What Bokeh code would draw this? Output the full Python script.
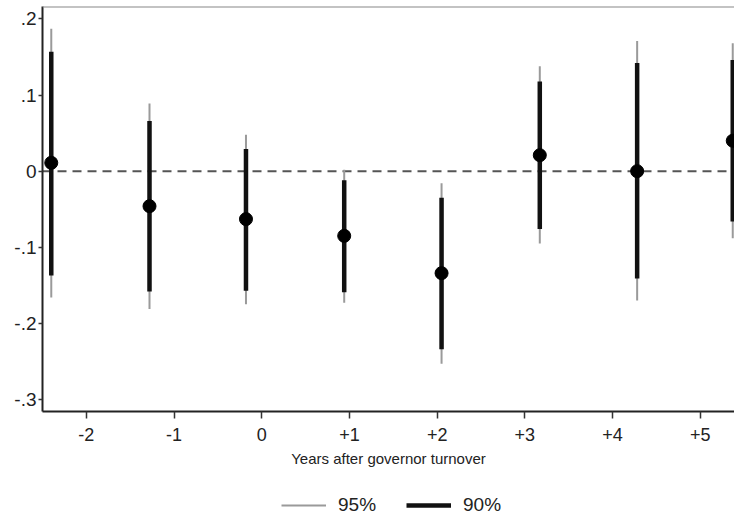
from bokeh.plotting import figure
from bokeh.layouts import column
from bokeh.models import (ColumnDataSource, FixedTicker, Span,
                          Legend, LegendItem)
from bokeh.embed import file_html
from bokeh.resources import INLINE

# ---- data ----
x_ticks = [-2, -1, 0, 1, 2, 3, 4, 5]
x_tick_labels = ["-2", "-1", "0", "+1", "+2", "+3", "+4", "+5"]
y_ticks = [0.2, 0.1, 0.0, -0.1, -0.2, -0.3]
y_tick_labels = [".2", ".1", "0", "-.1", "-.2", "-.3"]

xpos = [-2.40, -1.28, -0.18, 0.94, 2.05, 3.17, 4.28, 5.37]
coef = [0.011, -0.046, -0.063, -0.085, -0.134, 0.021, 0.000, 0.040]
lo90 = [-0.137, -0.158, -0.157, -0.159, -0.234, -0.076, -0.141, -0.066]
hi90 = [0.157, 0.066, 0.029, -0.012, -0.035, 0.118, 0.142, 0.146]
lo95 = [-0.166, -0.181, -0.175, -0.173, -0.253, -0.095, -0.170, -0.088]
hi95 = [0.187, 0.089, 0.048, 0.002, -0.016, 0.138, 0.171, 0.168]
legend_labels = ["95%", "90%"]

FONT = "Liberation Sans"
TXT = "#222222"
C95, W95 = "#9a9a9a", 2
C90, W90 = "#111111", 4.5

src = ColumnDataSource(dict(x=xpos, y=coef, lo90=lo90, hi90=hi90,
                            lo95=lo95, hi95=hi95))

p = figure(width=734, height=490, x_range=(-2.5, 5.39),
           y_range=(-0.3158, 0.2164), output_backend="svg",
           toolbar_location=None, min_border_left=42, min_border_right=0,
           min_border_top=6, min_border_bottom=79, outline_line_color=None,
           background_fill_color="white", border_fill_color="white")
p.xgrid.visible = False
p.ygrid.visible = False

# zero reference line
p.add_layout(Span(location=0, dimension="width", line_color="#555555",
                  line_width=2, line_dash="9 6", level="underlay"))
# top border line of the plot box
p.add_layout(Span(location=p.y_range.end, dimension="width",
                  line_color="#888888", line_width=2))

p.segment(x0="x", y0="lo95", x1="x", y1="hi95", source=src,
          line_color=C95, line_width=W95)
p.segment(x0="x", y0="lo90", x1="x", y1="hi90", source=src,
          line_color=C90, line_width=W90)
p.scatter(x="x", y="y", source=src, size=13, color="#000000")

# x axis
xa = p.xaxis[0]
xa.ticker = FixedTicker(ticks=x_ticks)
xa.major_label_overrides = {t: l for t, l in zip(x_ticks, x_tick_labels)}
xa.minor_tick_line_color = None
xa.axis_label = "Years after governor turnover"
xa.axis_label_text_font = FONT
xa.axis_label_text_font_size = "15px"
xa.axis_label_text_font_style = "normal"
xa.axis_label_text_color = TXT
xa.axis_label_standoff = 6
xa.major_label_text_font = FONT
xa.major_label_text_font_size = "18px"
xa.major_label_text_color = TXT
xa.major_label_standoff = 9
xa.major_tick_out = 7
xa.major_tick_in = 0
xa.major_tick_line_width = 1.5
xa.major_tick_line_color = "#333333"
xa.axis_line_width = 2
xa.axis_line_color = "#222222"

# y axis
ya = p.yaxis[0]
ya.ticker = FixedTicker(ticks=y_ticks)
ya.major_label_overrides = {t: l for t, l in zip(y_ticks, y_tick_labels)}
ya.minor_tick_line_color = None
ya.major_label_text_font = FONT
ya.major_label_text_font_size = "19px"
ya.major_label_text_color = TXT
ya.major_label_standoff = 2
ya.major_tick_out = 4
ya.major_tick_in = 0
ya.major_tick_line_width = 1.5
ya.major_tick_line_color = "#333333"
ya.axis_line_width = 2
ya.axis_line_color = "#222222"

# legend strip below the chart (its renderers reuse the data but lie
# outside this strip's ranges, so only the legend samples are seen)
pl = figure(width=734, height=27, output_backend="svg", toolbar_location=None,
            x_axis_location=None, y_axis_location=None, min_border=0,
            outline_line_color=None, x_range=(100, 101), y_range=(100, 101))
pl.xgrid.visible = False
pl.ygrid.visible = False
l95 = pl.segment(x0="x", y0="lo95", x1="x", y1="hi95", source=src,
                 line_color=C95, line_width=W95)
l90 = pl.segment(x0="x", y0="lo90", x1="x", y1="hi90", source=src,
                 line_color=C90, line_width=W90)
legend = Legend(items=[LegendItem(label=legend_labels[0], renderers=[l95]),
                       LegendItem(label=legend_labels[1], renderers=[l90])],
                orientation="horizontal", location=(239, 1),
                glyph_width=45, glyph_height=20, label_standoff=12,
                spacing=30, padding=0, margin=0, border_line_color=None,
                background_fill_alpha=0,
                label_text_font=FONT, label_text_font_size="19px",
                label_text_color=TXT)
pl.add_layout(legend)

open("out.html", "w").write(file_html(column(p, pl), INLINE))
